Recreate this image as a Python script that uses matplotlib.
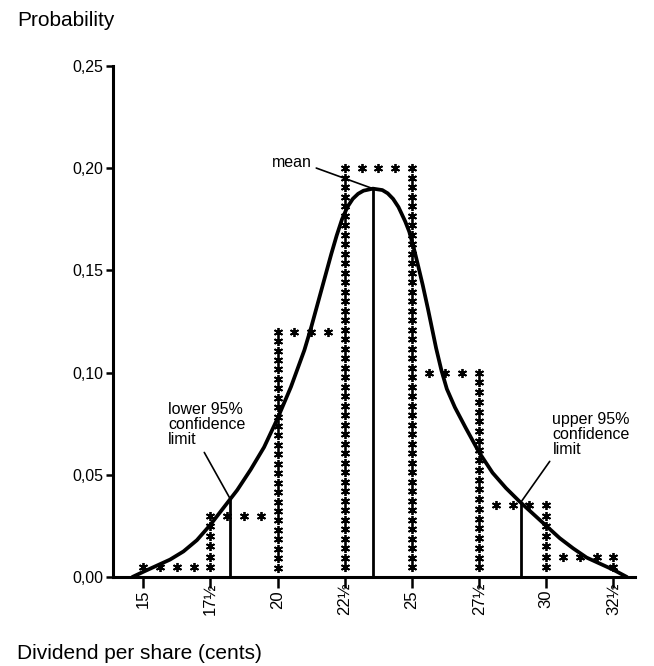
import matplotlib
matplotlib.use("Agg")
import matplotlib.pyplot as plt
import numpy as np

plt.rcParams['font.family'] = ['Liberation Sans', 'DejaVu Sans']

# histogram classes (cents) and their probabilities
bin_edges = [15, 17.5, 20, 22.5, 25, 27.5, 30, 32.5]
bin_probs = [0.005, 0.03, 0.12, 0.20, 0.10, 0.035, 0.01]

# fitted curve
curve_x = [14.6, 15.0, 15.5, 16.0, 16.5, 17.0, 17.5, 18.0, 18.5, 19.0, 19.5,
           20.0, 20.5, 21.0, 21.25, 21.5, 21.75, 22.0, 22.2, 22.4, 22.6,
           22.8, 23.0, 23.2, 23.55, 23.9, 24.1, 24.3, 24.5, 24.75, 24.9,
           25.05, 25.2, 25.4, 25.6, 25.9, 26.1, 26.3, 26.6, 27.0, 27.5,
           28.0, 28.5, 29.0, 29.5, 30.0, 30.5, 31.0, 31.5, 32.0, 32.5, 33.0]
curve_y = [0.0, 0.0025, 0.0055, 0.0085, 0.0125, 0.018, 0.0255, 0.034, 0.0425,
           0.0525, 0.0635, 0.0775, 0.093, 0.111, 0.122, 0.134, 0.146, 0.158,
           0.167, 0.175, 0.181, 0.185, 0.1875, 0.189, 0.190, 0.1893, 0.1877,
           0.185, 0.181, 0.174, 0.169, 0.162, 0.154, 0.143, 0.131, 0.112,
           0.101, 0.092, 0.083, 0.073, 0.061, 0.051, 0.0435, 0.037, 0.031,
           0.025, 0.019, 0.014, 0.0095, 0.0065, 0.0035, 0.0]

mean_x, mean_y = 23.55, 0.190
lower_x, lower_y = 18.25, 0.038
upper_x, upper_y = 29.05, 0.0365

x_ticks = [15, 17.5, 20, 22.5, 25, 27.5, 30, 32.5]
x_labels = ['15', '17½', '20', '22½', '25', '27½', '30', '32½']
y_ticks = [0.0, 0.05, 0.10, 0.15, 0.20, 0.25]
y_labels = ['0,00', '0,05', '0,10', '0,15', '0,20', '0,25']

fig = plt.figure(figsize=(6.54, 6.66), dpi=100)
ax = fig.add_axes([113 / 654, 1 - 577 / 666, 522 / 654, 511 / 666])

# asterisk outline of the histogram, like a line-printer plot
star_step = 0.0047
heights = [0] + bin_probs + [0]
col_x, col_y, row_x, row_y = [], [], [], []
for i, edge in enumerate(bin_edges):
    h = max(heights[i], heights[i + 1])
    n = max(1, int(round(h / star_step)))
    col_x += [edge] * n
    col_y += list(np.arange(1, n + 1) * h / n)
for i, p in enumerate(bin_probs):
    w = bin_edges[i + 1] - bin_edges[i]
    for k in (1, 2, 3):
        row_x.append(bin_edges[i] + w * k / 4)
        row_y.append(p)
ax.plot(col_x + row_x, col_y + row_y, ls='none', marker=(6, 2, 0),
        ms=6.5, mew=1.3, color='black')

ax.plot(curve_x, curve_y, color='black', lw=2.7, solid_capstyle='round',
        solid_joinstyle='round', clip_on=False, zorder=3)

for vx, vy in [(mean_x, mean_y), (lower_x, lower_y), (upper_x, upper_y)]:
    ax.vlines(vx, 0, vy, color='black', lw=2.0, zorder=3)

ax.annotate('mean', xy=(mean_x, mean_y), xytext=(21.29, 0.203),
            ha='right', va='center', fontsize=11.5,
            arrowprops=dict(arrowstyle='-', lw=1.2, color='black',
                            relpos=(1, 0.2), shrinkA=1, shrinkB=0))
ax.annotate('lower 95%\nconfidence\nlimit', xy=(lower_x, lower_y),
            xytext=(15.93, 0.0855), ha='left', va='top', fontsize=11.5,
            linespacing=1.0,
            arrowprops=dict(arrowstyle='-', lw=1.2, color='black',
                            relpos=(0.43, 0), shrinkA=2, shrinkB=0))
ax.annotate('upper 95%\nconfidence\nlimit', xy=(upper_x, upper_y),
            xytext=(30.23, 0.0805), ha='left', va='top', fontsize=11.5,
            linespacing=1.0,
            arrowprops=dict(arrowstyle='-', lw=1.2, color='black',
                            relpos=(0, 0), shrinkA=1, shrinkB=0))

ax.set_xlim(13.88, 33.3)
ax.set_ylim(0, 0.25)
ax.spines['top'].set_visible(False)
ax.spines['right'].set_visible(False)
ax.spines['left'].set_linewidth(2.2)
ax.spines['bottom'].set_linewidth(2.2)

ax.set_yticks(y_ticks)
ax.set_yticklabels(y_labels)
ax.set_xticks(x_ticks)
ax.set_xticklabels(x_labels, rotation=90)
for lab in ax.get_xticklabels():
    lab.set_va('center')
ax.tick_params(axis='y', length=5, width=1.8, pad=2, labelsize=11.5)
ax.tick_params(axis='x', length=8, width=1.8, pad=8, labelsize=12)

fig.text(17 / 654, 1 - 11 / 666, 'Probability', fontsize=15, va='top')
fig.text(17 / 654, 1 - 644 / 666, 'Dividend per share (cents)', fontsize=15,
         va='top')

fig.savefig('out.png', dpi=100)
